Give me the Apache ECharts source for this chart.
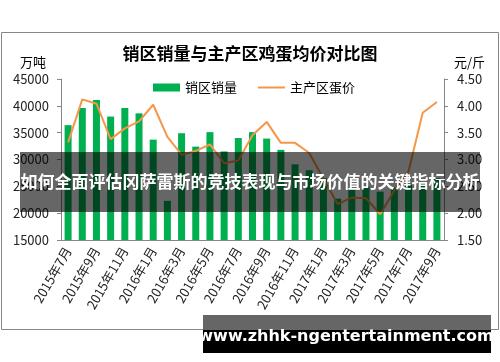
<!DOCTYPE html>
<html>
<head>
<meta charset="utf-8">
<script src="https://cdn.jsdelivr.net/npm/echarts@6/dist/echarts.min.js"></script>
<style>
html,body{margin:0;padding:0;background:#fff;}
#c{width:500px;height:362px;}
</style>
</head>
<body>
<div id="c"></div>
<script>
const categories = ['2015年7月','2015年8月','2015年9月','2015年10月','2015年11月','2015年12月',
  '2016年1月','2016年2月','2016年3月','2016年4月','2016年5月','2016年6月','2016年7月','2016年8月',
  '2016年9月','2016年10月','2016年11月','2016年12月','2017年1月','2017年2月','2017年3月','2017年4月',
  '2017年5月','2017年6月','2017年7月','2017年8月','2017年9月'];
const salesVolume = [36400,39600,41100,38000,39600,38600,33700,22300,34900,32400,35100,31500,34000,35100,
  33900,31800,29100,28000,26500,22700,24500,25000,24000,24800,25300,25600,26500];
const eggPrice = [3.32,4.12,4.04,3.38,3.58,3.71,4.02,3.42,3.09,3.16,3.28,2.93,2.98,3.45,
  3.70,3.31,3.31,3.12,2.64,2.17,2.29,2.28,1.98,2.42,2.78,3.87,4.07];
const leftTicks = {min:15000, max:45000, interval:5000};
const rightTicks = {min:1.5, max:4.5, interval:0.5};
const titleText = '销区销量与主产区鸡蛋均价对比图';
const seriesNames = ['销区销量','主产区蛋价'];
const bannerText = '如何全面评估冈萨雷斯的竞技表现与市场价值的关键指标分析';
const footerText = 'www.zhhk-ngentertainment.com';

const FONT = '"Noto Sans CJK SC","Noto Sans",sans-serif';
const AX = '#868686';
const chart = echarts.init(document.getElementById('c'), null, {renderer:'canvas'});
chart.setOption({
  backgroundColor:'#fff',
  animation:false,
  textStyle:{fontFamily:FONT},
  title:{text:titleText, left:'center', top:40, textStyle:{fontSize:17, fontWeight:'bold', color:'#000', fontFamily:FONT}},
  legend:{data:[{name:seriesNames[0], icon:'rect'},{name:seriesNames[1], itemStyle:{opacity:0}, lineStyle:{width:2, color:'#F79646'}}],
    left:153, top:81, padding:0, itemWidth:27, itemHeight:8, itemGap:20,
    textStyle:{fontSize:13, color:'#000', fontFamily:FONT}},
  grid:{left:61, right:56, top:79, bottom:122},
  xAxis:{type:'category', data:categories, boundaryGap:true,
    axisLine:{lineStyle:{color:AX}},
    axisTick:{interval:1, length:4, lineStyle:{color:AX}},
    axisLabel:{interval:1, rotate:60, margin:8, fontSize:13, color:'#222', fontFamily:FONT}},
  yAxis:[
    {type:'value', min:leftTicks.min, max:leftTicks.max, interval:leftTicks.interval,
      name:'万吨', nameLocation:'end', nameGap:10, nameTextStyle:{fontSize:13, color:'#000', align:'right', padding:[0,15,0,0], fontFamily:FONT},
      axisLine:{show:true, lineStyle:{color:AX}}, axisTick:{show:true, length:4, lineStyle:{color:AX}},
      splitLine:{show:false}, axisLabel:{margin:12, fontSize:13, color:'#222', fontFamily:FONT, formatter:v=>String(v)}},
    {type:'value', min:rightTicks.min, max:rightTicks.max, interval:rightTicks.interval,
      name:'元/斤', nameLocation:'end', nameGap:10, nameTextStyle:{fontSize:13, color:'#000', align:'left', padding:[0,0,0,10], fontFamily:FONT},
      axisLine:{show:true, lineStyle:{color:AX}}, axisTick:{show:true, length:4, lineStyle:{color:AX}},
      splitLine:{show:false}, axisLabel:{margin:13, fontSize:13, color:'#222', fontFamily:FONT, formatter:v=>v.toFixed(2)}}
  ],
  series:[
    {name:seriesNames[0], type:'bar', yAxisIndex:0, data:salesVolume, barWidth:7, itemStyle:{color:'#00B050'}, z:2},
    {name:seriesNames[1], type:'line', yAxisIndex:1, data:eggPrice, symbol:'none', lineStyle:{color:'#F79646', width:2}, itemStyle:{color:'#F79646'}, z:3}
  ],
  graphic:[
    {type:'rect', shape:{x:1.5, y:32.5, width:497, height:297}, style:{fill:null, stroke:AX, lineWidth:1}, z:-1, silent:true},
    {type:'rect', shape:{x:20, y:152, width:460, height:60}, style:{fill:'rgba(0,0,0,0.6)'}, z:100},
    {type:'text', x:250, y:182, z:101, style:{text:bannerText, fill:'#fff', font:'bold 17px '+FONT, textAlign:'center', textVerticalAlign:'middle'}},
    {type:'rect', shape:{x:203, y:315, width:288, height:15}, style:{fill:'#666'}, z:100},
    {type:'rect', shape:{x:203, y:330, width:288, height:23}, style:{fill:'#000'}, z:100},
    {type:'text', x:346, y:337, z:101, style:{text:footerText, fill:'#fff', font:'bold 16px "DejaVu Sans","Noto Sans",sans-serif', textAlign:'center', textVerticalAlign:'middle'}}
  ]
});
</script>
</body>
</html>
